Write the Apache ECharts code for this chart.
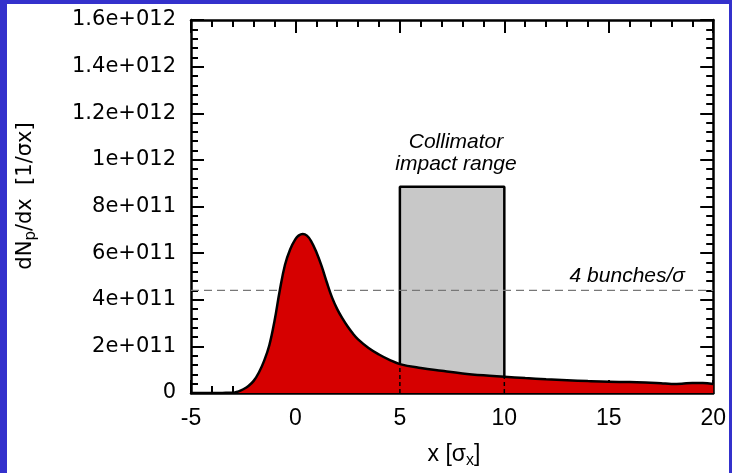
<!DOCTYPE html>
<html>
<head>
<meta charset="utf-8">
<script src="https://cdn.jsdelivr.net/npm/echarts@6/dist/echarts.min.js"></script>
<style>
  html, body { margin: 0; padding: 0; width: 732px; height: 473px; background: #3431cc; overflow: hidden; }
  #chart { position: absolute; left: 7px; top: 4px; width: 722px; height: 469px; background: #ffffff; }
</style>
</head>
<body>
<div id="chart"></div>
<script>
// ---- data ----
const xTickLabels = ['-5', '0', '5', '10', '15', '20'];
const yTickLabels = ['0', '2e+011', '4e+011', '6e+011', '8e+011', '1e+012', '1.2e+012', '1.4e+012', '1.6e+012'];

const curveX = [-5, -4, -3.5, -3, -2.75, -2.5, -2.25, -2, -1.75, -1.5, -1.25, -1, -0.75, -0.5, -0.25, 0, 0.15, 0.35, 0.55, 0.75, 1, 1.25, 1.5, 1.75, 2, 2.25, 2.5, 2.75, 3, 3.5, 4, 4.5, 5, 6, 7, 8, 9, 10, 11, 12, 13, 14, 15, 16, 17, 17.5, 18, 18.5, 19, 19.5, 20];
const curveY = [0, 0.002e11, 0.005e11, 0.01e11, 0.06e11, 0.16e11, 0.3e11, 0.52e11, 0.88e11, 1.38e11, 2.05e11, 3.1e11, 4.4e11, 5.5e11, 6.17e11, 6.6e11, 6.75e11, 6.82e11, 6.75e11, 6.52e11, 6.05e11, 5.45e11, 4.75e11, 4.1e11, 3.6e11, 3.2e11, 2.85e11, 2.55e11, 2.3e11, 1.93e11, 1.65e11, 1.42e11, 1.24e11, 1.07e11, 0.95e11, 0.84e11, 0.76e11, 0.70e11, 0.64e11, 0.59e11, 0.55e11, 0.51e11, 0.48e11, 0.47e11, 0.44e11, 0.42e11, 0.39e11, 0.40e11, 0.43e11, 0.43e11, 0.39e11];

const boxX = [5, 10];          // collimator impact range
const boxTop = 8.85e11;
const bunchLevel = 4.4e11;     // 4 bunches / sigma

const xMin = -5, xMax = 20, xStep = 5;
const yMin = 0, yMax = 1.6e12, yStep = 2e11;

// ---- build ----
const curveData = curveX.map((x, i) => [x, curveY[i]]);
const yAt = x => curveY[curveX.indexOf(x)];

const chart = echarts.init(document.getElementById('chart'), null, { renderer: 'canvas' });

const axisLineStyle = { color: '#000', width: 2.5 };
function xAx(pos, showLabel) {
  return {
    type: 'value', position: pos, min: xMin, max: xMax, interval: xStep,
    axisLine: { show: true, onZero: false, lineStyle: axisLineStyle },
    axisTick: { show: true, inside: true, length: 13, lineStyle: { color: '#000', width: 2 } },
    minorTick: { show: true, splitNumber: 5, length: 7, lineStyle: { color: '#000', width: 2 } },
    splitLine: { show: false }, minorSplitLine: { show: false },
    axisLabel: {
      show: showLabel, margin: 14, color: '#000', fontSize: 23, fontFamily: 'Liberation Sans',
      formatter: v => xTickLabels[Math.round((v - xMin) / xStep)]
    }
  };
}
function yAx(pos, showLabel) {
  return {
    type: 'value', position: pos, min: yMin, max: yMax, interval: yStep,
    axisLine: { show: true, onZero: false, lineStyle: axisLineStyle },
    axisTick: { show: true, inside: true, length: 13, lineStyle: { color: '#000', width: 2 } },
    minorTick: { show: true, splitNumber: 5, length: 7, lineStyle: { color: '#000', width: 2 } },
    splitLine: { show: false }, minorSplitLine: { show: false },
    axisLabel: {
      show: showLabel, margin: 15, color: '#000', fontSize: 21, fontFamily: 'DejaVu Sans',
      formatter: v => yTickLabels[Math.round((v - yMin) / yStep)]
    }
  };
}

function txt(x, y, text, rich, extra) {
  return {
    type: 'text', x: x, y: y, z: 100,
    style: Object.assign({
      text: text, rich: rich, fill: '#000',
      align: 'center', verticalAlign: 'middle',
      textAlign: 'center', textVerticalAlign: 'middle'
    }, extra || {})
  };
}

const option = {
  animation: false,
  grid: { left: 184, top: 16, width: 525, height: 373, containLabel: false },
  xAxis: [xAx('bottom', true), xAx('top', false)],
  yAxis: [yAx('left', true), yAx('right', false)],
  series: [
    {
      name: 'box', type: 'line', z: 1, showSymbol: false, symbol: 'none', silent: true,
      data: [[boxX[0], 0], [boxX[0], boxTop], [boxX[1], boxTop], [boxX[1], 0]],
      lineStyle: { color: '#000', width: 2.5 },
      areaStyle: { color: '#c8c8c8', opacity: 1, origin: 'start' }
    },
    {
      name: 'bunches', type: 'line', z: 2, showSymbol: false, symbol: 'none', silent: true,
      data: [[xMin, bunchLevel], [xMax, bunchLevel]],
      lineStyle: { color: '#777', width: 1.3, type: [8, 5] }
    },
    {
      name: 'dNdx', type: 'line', z: 3, showSymbol: false, symbol: 'none', silent: true,
      smooth: 0.4,
      data: curveData,
      lineStyle: { color: '#000', width: 2.5 },
      areaStyle: { color: '#d60000', opacity: 1, origin: 'start' }
    },
    {
      name: 'edgeL', type: 'line', z: 4, showSymbol: false, symbol: 'none', silent: true,
      data: [[boxX[0], 0], [boxX[0], yAt(boxX[0])]],
      lineStyle: { color: '#000', width: 1.5, type: [4, 3] }
    },
    {
      name: 'edgeR', type: 'line', z: 4, showSymbol: false, symbol: 'none', silent: true,
      data: [[boxX[1], 0], [boxX[1], yAt(boxX[1])]],
      lineStyle: { color: '#000', width: 1.5, type: [4, 3] }
    }
  ],
  graphic: [
    Object.assign(txt(19, 192, '{a|dN}{b|p}{a|/dx  [1/σx]}', {
      a: { fontSize: 21, fontFamily: 'DejaVu Sans', lineHeight: 26, fill: '#000' },
      b: { fontSize: 15, fontFamily: 'DejaVu Sans', lineHeight: 16, verticalAlign: 'bottom', fill: '#000' }
    }), { rotation: Math.PI / 2 }),
    txt(447, 451, '{a|x [σ}{b|x}{a|]}', {
      a: { fontSize: 23, fontFamily: 'Liberation Sans', lineHeight: 28, fill: '#000' },
      b: { fontSize: 16, fontFamily: 'Liberation Sans', lineHeight: 18, verticalAlign: 'bottom', fill: '#000' }
    }),
    txt(449, 138.5, 'Collimator', null, { font: 'italic 21px "Liberation Sans"' }),
    txt(449, 160, 'impact range', null, { font: 'italic 21px "Liberation Sans"' }),
    txt(678, 272, '4 bunches/σ', null, { font: 'italic 21px "Liberation Sans"', align: 'right', textAlign: 'right' })
  ]
};
chart.setOption(option);
</script>
</body>
</html>
